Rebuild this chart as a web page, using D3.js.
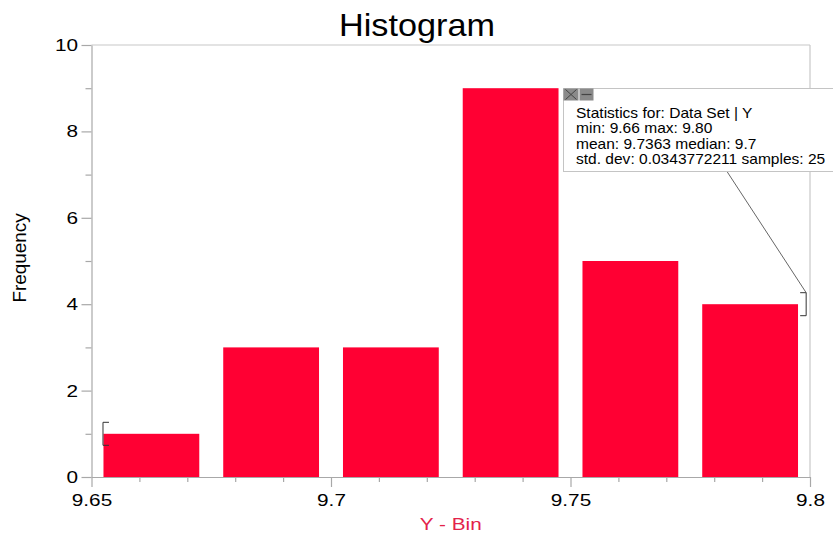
<!DOCTYPE html>
<html>
<head>
<meta charset="utf-8">
<script src="https://cdn.jsdelivr.net/npm/d3@7"></script>
<style>
  html, body { margin: 0; padding: 0; background: #fff; }
  svg { display: block; font-family: Arial, "Liberation Sans", sans-serif; }
</style>
</head>
<body>
<svg id="chart" width="833" height="533"></svg>
<script>
// Histogram of Y: bin edges and counts per bin
const binEdges = [9.65, 9.675, 9.70, 9.725, 9.75, 9.775, 9.80];
const binCounts = [1, 3, 3, 9, 5, 4];

// Axis ticks
const xMajorTicks = [9.65, 9.70, 9.75, 9.80];
const xTickLabels = ["9.65", "9.7", "9.75", "9.8"];
const xMinorTicks = [9.66, 9.67, 9.68, 9.69, 9.71, 9.72, 9.73, 9.74, 9.76, 9.77, 9.78, 9.79];
const yMajorTicks = [0, 2, 4, 6, 8, 10];
const yMinorTicks = [1, 3, 5, 7, 9];

// Statistics annotation text
const statsLines = [
  "Statistics for: Data Set | Y",
  "min: 9.66 max: 9.80",
  "mean: 9.7363 median: 9.7",
  "std. dev: 0.0343772211 samples: 25"
];
// Selection range marked by brackets (x) at the end bars' heights (y)
const selectionX = [9.6524, 9.7992];
const selectionY = [1, 4];

const svg = d3.select("#chart");
const plotLeft = 91.5, plotRight = 810, plotTop = 45, plotBottom = 477;

const x = d3.scaleLinear().domain([9.65, 9.80]).range([plotLeft, plotRight]);
const y = d3.scaleLinear().domain([0, 10]).range([plotBottom, plotTop]);

const axisColor = "#a8a8a8";
const barColor = "#ff0033";
const labelFont = 17.3;   // tick label size
const wide = 1.2;         // horizontal stretch of the wide sans lettering

// Frame: top and right borders
svg.append("line").attr("x1", plotLeft).attr("x2", plotRight).attr("y1", plotTop).attr("y2", plotTop)
  .attr("stroke", "#c8c8c8").attr("stroke-width", 1.2);
svg.append("line").attr("x1", plotRight).attr("x2", plotRight).attr("y1", plotTop).attr("y2", plotBottom)
  .attr("stroke", "#c8c8c8").attr("stroke-width", 1.2);

// Bars
const bins = binCounts.map((c, i) => ({ x0: binEdges[i], x1: binEdges[i + 1], count: c }));
const inset = 0.1;
svg.append("g").selectAll("rect").data(bins).join("rect")
  .attr("x", d => x(d.x0) + (x(d.x1) - x(d.x0)) * inset)
  .attr("width", d => (x(d.x1) - x(d.x0)) * (1 - 2 * inset))
  .attr("y", d => y(d.count))
  .attr("height", d => y(0) - y(d.count))
  .attr("fill", barColor);

function styleAxis(g) {
  g.selectAll("path.domain").attr("stroke", axisColor).attr("stroke-width", 1.2);
  g.selectAll(".tick line").attr("stroke", axisColor).attr("stroke-width", 1.2);
  g.selectAll(".tick text").attr("fill", "#000").attr("font-size", labelFont)
    .attr("font-family", "Arial, 'Liberation Sans', sans-serif");
}
// Stretch tick text horizontally about each tick's own origin
function widenLabels(g) {
  g.selectAll(".tick text").each(function () {
    const t = d3.select(this);
    const x0 = +t.attr("x") || 0;
    t.attr("x", x0 / wide).attr("transform", `scale(${wide},1)`);
  });
}

// Y axis
svg.append("g").attr("transform", `translate(${plotLeft},0)`)
  .call(d3.axisLeft(y).tickValues(yMinorTicks).tickSize(6).tickFormat(""))
  .call(g => g.select(".domain").remove())
  .call(styleAxis);
svg.append("g").attr("transform", `translate(${plotLeft},0)`)
  .call(d3.axisLeft(y).tickValues(yMajorTicks).tickSize(10).tickSizeOuter(0).tickPadding(3.5).tickFormat(d3.format("d")))
  .call(styleAxis)
  .call(widenLabels);

// X axis
svg.append("g").attr("transform", `translate(0,${plotBottom})`)
  .call(d3.axisBottom(x).tickValues(xMinorTicks).tickSize(5).tickFormat(""))
  .call(g => g.select(".domain").remove())
  .call(styleAxis);
svg.append("g").attr("transform", `translate(0,${plotBottom})`)
  .call(d3.axisBottom(x).tickValues(xMajorTicks).tickSize(10).tickSizeOuter(0).tickPadding(6.7)
    .tickFormat((d, i) => xTickLabels[i]))
  .call(styleAxis)
  .call(widenLabels);

// Titles
svg.append("text").attr("transform", "translate(417,36) scale(1.07,1)").attr("text-anchor", "middle")
  .attr("font-size", 32).attr("fill", "#000").text("Histogram");
svg.append("text").attr("transform", `translate(${(plotLeft + plotRight) / 2},530) scale(1.22,1)`)
  .attr("text-anchor", "middle").attr("font-size", 17).attr("fill", "#e3224a").text("Y - Bin");
svg.append("text").attr("transform", "translate(26,258) rotate(-90) scale(1.05,1)")
  .attr("text-anchor", "middle").attr("font-size", 18).attr("fill", "#000").text("Frequency");

// Selection brackets
const bh = 11.5, bw = 6;
const lx = x(selectionX[0]), ly = y(selectionY[0]);
svg.append("path")
  .attr("d", `M${lx + bw},${ly - bh} H${lx} V${ly + bh} H${lx + bw}`)
  .attr("fill", "none").attr("stroke", "#333").attr("stroke-width", 1);
const rx = x(selectionX[1]), ry = y(selectionY[1]);
svg.append("path")
  .attr("d", `M${rx - bw},${ry - bh} H${rx} V${ry + bh} H${rx - bw}`)
  .attr("fill", "none").attr("stroke", "#333").attr("stroke-width", 1);

// Statistics box with leader line to the selection
const box = { x: 563.5, y: 88.5, w: 290, h: 83 };
svg.append("line").attr("x1", 727).attr("y1", box.y + box.h).attr("x2", rx).attr("y2", ry - bh)
  .attr("stroke", "#555").attr("stroke-width", 0.9);
svg.append("rect").attr("x", box.x).attr("y", box.y).attr("width", box.w).attr("height", box.h)
  .attr("fill", "#fff").attr("stroke", "#c4c4c4").attr("stroke-width", 1);

// Close / minimize buttons
const btn = svg.append("g");
btn.append("rect").attr("x", box.x).attr("y", box.y).attr("width", 15).attr("height", 12)
  .attr("fill", "#8a8a8a");
btn.append("rect").attr("x", box.x + 16).attr("y", box.y).attr("width", 14).attr("height", 12)
  .attr("fill", "#8a8a8a");
btn.append("path")
  .attr("d", `M${box.x + 2},${box.y + 1} L${box.x + 13},${box.y + 11} M${box.x + 13},${box.y + 1} L${box.x + 2},${box.y + 11}`)
  .attr("stroke", "#444").attr("stroke-width", 1);
btn.append("line").attr("x1", box.x + 18).attr("x2", box.x + 28).attr("y1", box.y + 6).attr("y2", box.y + 6)
  .attr("stroke", "#444").attr("stroke-width", 1.2);

svg.append("g").selectAll("text").data(statsLines).join("text")
  .attr("transform", (d, i) => `translate(576,${118 + i * 15.3}) scale(1.11,1)`)
  .attr("font-size", 14).attr("fill", "#000").text(d => d);
</script>
</body>
</html>
